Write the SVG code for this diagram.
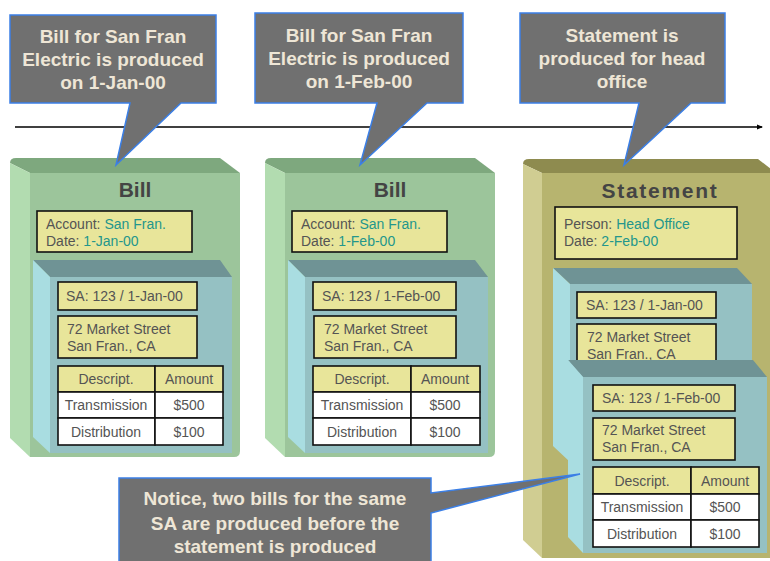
<svg xmlns="http://www.w3.org/2000/svg" width="770" height="561" viewBox="0 0 770 561">
<defs>
<marker id="arr" viewBox="0 0 6 6" refX="5" refY="3" markerWidth="6" markerHeight="6" orient="auto" markerUnits="userSpaceOnUse">
<path d="M0,0.5 L6,3 L0,5.5 Z" fill="#000"/>
</marker>
<style>
.gTop{fill:#7ea87e}.gLeft{fill:#b2dcb0}.gFront{fill:#9cc59b}
.kTop{fill:#8e8b4f}.kLeft{fill:#d0cd92}.kFront{fill:#b7b46f}
.bTop{fill:#6f9395}.bLeft{fill:#a9dde1}.bFront{fill:#95c1c3}
.lbl{fill:#e8e59a;stroke:#111;stroke-width:1.6}
.cell{fill:#ffffff;stroke:#111;stroke-width:1.6}
.t{font-family:"Liberation Sans",Arial,sans-serif;font-size:14px;fill:#545454}
.v{fill:#23968c}
.c{text-anchor:middle}
.title{font-family:"Liberation Sans",Arial,sans-serif;font-size:21px;font-weight:bold;fill:#444;text-anchor:middle}
.call{fill:#707070;stroke:#3b7fe6;stroke-width:1.5;stroke-linejoin:miter}
.ct{font-family:"Liberation Sans",Arial,sans-serif;font-size:19px;font-weight:bold;fill:#eee6d6;text-anchor:middle}
</style>
</defs>
<rect width="770" height="561" fill="#fff"/>

<g id="connectors">
<line x1="15" y1="127" x2="762" y2="127" stroke="#000" stroke-width="1.5" marker-end="url(#arr)"/>
</g>

<g id="bill1">
<path class="gTop" d="M16,158 H220 L240,173 H30 L10,163 Q10,158 16,158 Z"/>
<path class="gLeft" d="M10,163 L30,173 V457 L10,438 Z"/>
<path class="gFront" d="M30,173 H240 V451 Q240,457 234,457 H30 Z"/>
<text class="title" x="135" y="197">Bill</text>
<rect class="lbl" x="37" y="211" width="155" height="41"/>
<text class="t" x="46" y="229">Account: <tspan class="v">San Fran.</tspan></text>
<text class="t" x="46" y="246">Date: <tspan class="v">1-Jan-00</tspan></text>
<path class="bTop" d="M33,260 H220 L232,277 H50 Z"/>
<path class="bLeft" d="M33,260 L50,277 V453 L33,437 Z"/>
<rect class="bFront" x="50" y="277" width="182" height="176"/>
<rect class="lbl" x="58" y="282" width="139" height="28"/>
<text class="t" x="66" y="301">SA: 123 / 1-Jan-00</text>
<rect class="lbl" x="58" y="316" width="139" height="42"/>
<text class="t" x="67" y="334">72 Market Street</text>
<text class="t" x="67" y="351">San Fran., CA</text>
<rect class="lbl" x="58" y="366" width="97" height="26"/>
<rect class="lbl" x="155" y="366" width="68" height="26"/>
<rect class="cell" x="58" y="392" width="97" height="26"/>
<rect class="cell" x="155" y="392" width="68" height="26"/>
<rect class="cell" x="58" y="418" width="97" height="27"/>
<rect class="cell" x="155" y="418" width="68" height="27"/>
<text class="t c" x="106" y="384">Descript.</text>
<text class="t c" x="189" y="384">Amount</text>
<text class="t c" x="106" y="410">Transmission</text>
<text class="t c" x="189" y="410">$500</text>
<text class="t c" x="106" y="437">Distribution</text>
<text class="t c" x="189" y="437">$100</text>
</g>

<g id="bill2">
<path class="gTop" d="M271,158 H475 L495,173 H285 L265,163 Q265,158 271,158 Z"/>
<path class="gLeft" d="M265,163 L285,173 V457 L265,438 Z"/>
<path class="gFront" d="M285,173 H495 V451 Q495,457 489,457 H285 Z"/>
<text class="title" x="390" y="197">Bill</text>
<rect class="lbl" x="292" y="211" width="155" height="41"/>
<text class="t" x="301" y="229">Account: <tspan class="v">San Fran.</tspan></text>
<text class="t" x="301" y="246">Date: <tspan class="v">1-Feb-00</tspan></text>
<path class="bTop" d="M288,260 H475 L488,277 H305 Z"/>
<path class="bLeft" d="M288,260 L305,277 V453 L288,437 Z"/>
<rect class="bFront" x="305" y="277" width="183" height="176"/>
<rect class="lbl" x="313" y="282" width="143" height="28"/>
<text class="t" x="322" y="301">SA: 123 / 1-Feb-00</text>
<rect class="lbl" x="314" y="316" width="142" height="42"/>
<text class="t" x="324" y="334">72 Market Street</text>
<text class="t" x="324" y="351">San Fran., CA</text>
<rect class="lbl" x="313" y="366" width="98" height="26"/>
<rect class="lbl" x="411" y="366" width="69" height="26"/>
<rect class="cell" x="313" y="392" width="98" height="26"/>
<rect class="cell" x="411" y="392" width="69" height="26"/>
<rect class="cell" x="313" y="418" width="98" height="27"/>
<rect class="cell" x="411" y="418" width="69" height="27"/>
<text class="t c" x="362" y="384">Descript.</text>
<text class="t c" x="445" y="384">Amount</text>
<text class="t c" x="362" y="410">Transmission</text>
<text class="t c" x="445" y="410">$500</text>
<text class="t c" x="362" y="437">Distribution</text>
<text class="t c" x="445" y="437">$100</text>
</g>

<g id="statement">
<path class="kTop" d="M529,159 H758 L776,173 H542 L523,164 Q523,159 529,159 Z"/>
<path class="kLeft" d="M523,164 L542,173 V558 L523,540 Z"/>
<rect class="kFront" x="542" y="173" width="240" height="385"/>
<text class="title" x="660" y="198" letter-spacing="1.7">Statement</text>
<rect class="lbl" x="555" y="207" width="182" height="52"/>
<text class="t" x="564" y="229">Person: <tspan class="v">Head Office</tspan></text>
<text class="t" x="564" y="246">Date: <tspan class="v">2-Feb-00</tspan></text>
<g id="stmt-sa1">
<path class="bTop" d="M553,268 H737 L752,284 H570 Z"/>
<path class="bLeft" d="M553,268 L570,284 V462 L553,446 Z"/>
<rect class="bFront" x="570" y="284" width="182" height="178"/>
<rect class="lbl" x="577" y="292" width="139" height="26"/>
<text class="t" x="586" y="310">SA: 123 / 1-Jan-00</text>
<rect class="lbl" x="577" y="324" width="139" height="42"/>
<text class="t" x="587" y="342">72 Market Street</text>
<text class="t" x="587" y="359">San Fran., CA</text>
</g>
<g id="stmt-sa2">
<path class="bTop" d="M568,360 H753 L767,377 H583 Z"/>
<path class="bLeft" d="M568,360 L583,377 V553 L568,537 Z"/>
<rect class="bFront" x="583" y="377" width="184" height="176"/>
<rect class="lbl" x="593" y="385" width="142" height="26"/>
<text class="t" x="602" y="403">SA: 123 / 1-Feb-00</text>
<rect class="lbl" x="593" y="418" width="142" height="42"/>
<text class="t" x="602" y="435">72 Market Street</text>
<text class="t" x="602" y="452">San Fran., CA</text>
<rect class="lbl" x="593" y="467" width="98" height="27"/>
<rect class="lbl" x="691" y="467" width="68" height="27"/>
<rect class="cell" x="593" y="494" width="98" height="26"/>
<rect class="cell" x="691" y="494" width="68" height="26"/>
<rect class="cell" x="593" y="520" width="98" height="27"/>
<rect class="cell" x="691" y="520" width="68" height="27"/>
<text class="t c" x="642" y="486">Descript.</text>
<text class="t c" x="725" y="486">Amount</text>
<text class="t c" x="642" y="512">Transmission</text>
<text class="t c" x="725" y="512">$500</text>
<text class="t c" x="642" y="539">Distribution</text>
<text class="t c" x="725" y="539">$100</text>
</g>
</g>

<g id="callout1">
<path class="call" d="M10,15 H216 V103 H181 L116,165 L130,103 H10 Z"/>
<text class="ct" x="113" y="43">Bill for San Fran</text>
<text class="ct" x="113" y="66">Electric is produced</text>
<text class="ct" x="113" y="89">on 1-Jan-00</text>
</g>

<g id="callout2">
<path class="call" d="M255,13 H463 V103 H427 L360,165 L377,103 H255 Z"/>
<text class="ct" x="359" y="42">Bill for San Fran</text>
<text class="ct" x="359" y="65">Electric is produced</text>
<text class="ct" x="359" y="88">on 1-Feb-00</text>
</g>

<g id="callout3">
<path class="call" d="M520,13 H725 V103 H691 L624,165 L639,103 H520 Z"/>
<text class="ct" x="622" y="42">Statement is</text>
<text class="ct" x="622" y="65">produced for head</text>
<text class="ct" x="622" y="88">office</text>
</g>

<g id="callout4">
<path class="call" d="M119,478 H431 V493 L580,474 L431,513 V562 H119 Z"/>
<text class="ct" x="275" y="505">Notice, two bills for the same</text>
<text class="ct" x="275" y="530">SA are produced before the</text>
<text class="ct" x="275" y="553">statement is produced</text>
</g>
</svg>
